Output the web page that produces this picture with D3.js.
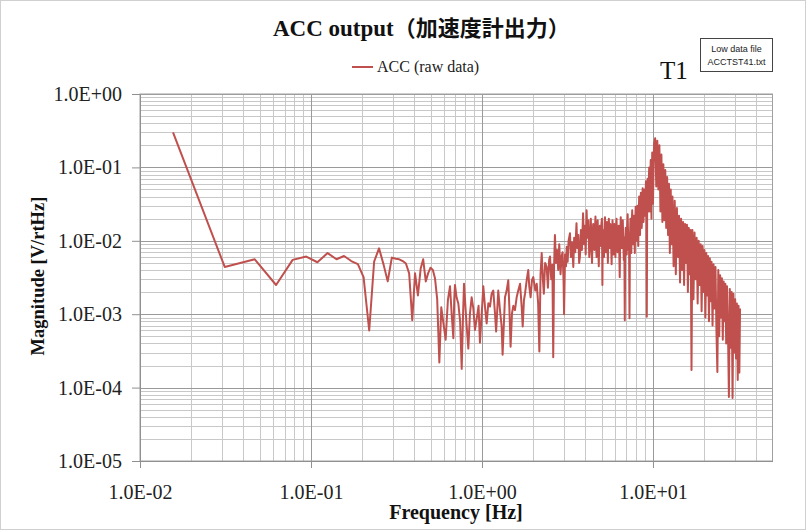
<!DOCTYPE html>
<html><head><meta charset="utf-8">
<script src="https://cdn.jsdelivr.net/npm/d3@7"></script>
<style>
html,body{margin:0;padding:0;background:#fff;}
svg{display:block;}
</style></head>
<body>
<script>
// ---- data ----
const freq = [
 0.0156,0.0313,0.0469,0.0625,0.0781,0.0938,0.109,0.125,0.141,0.156,0.172,0.188,0.203,0.219,0.234,0.25,0.266,0.281,0.297,0.313,
 0.328,0.344,0.359,0.375,0.391,0.406,0.422,0.438,0.453,0.469,0.484,0.5,0.516,0.531,0.547,0.563,0.578,
 0.613,0.632,0.65,0.665,0.68,0.688,0.695,0.71,0.727,0.745,0.761,0.775,0.785,0.81,0.832,0.85,0.87,0.89,0.91,0.94,
 0.955,0.973,1.018,1.041,1.065,1.089,1.114,1.139,1.164,1.191,1.21,1.245,1.274,1.303,1.32,1.363,1.394,1.425,1.445,1.47,
 1.498,1.525,1.559,1.595,1.63,1.67,1.706,1.73,1.76,1.785,1.826,1.865,1.89,1.925,1.96,1.995,
 2.05,2.09,2.13,2.165,2.20,2.235,2.27,2.30,2.34,2.39,2.43,2.47,2.50,
 2.54,2.58,2.61,2.64,2.67,2.71,2.75,2.79,2.83,2.88,2.92,2.96,3.00,3.02,3.06,3.10,3.13,3.17,3.21,3.27,
 3.31,3.36,3.42,3.46,3.51,3.57,3.61,3.66,3.70,3.74,3.79,3.84,3.90,3.95,4.00,4.04,4.09,4.14,4.19,4.24,
 4.28,4.305,4.33,4.365,4.40,4.435,4.47,4.505,4.54,4.575,
 4.61,4.645,4.68,4.715,4.75,4.785,4.82,4.855,4.89,4.925,
 4.96,4.995,5.03,5.06,5.08,5.10,5.135,5.17,5.205,5.24,
 5.275,5.31,5.345,5.38,5.415,5.45,5.485,5.52,5.555,5.59,
 5.625,5.66,5.695,5.73,5.765,5.80,5.835,5.87,5.905,5.94,
 5.985,6.03,6.075,6.12,6.165,6.21,6.255,6.30,6.345,6.39,
 6.435,6.48,6.525,6.57,6.615,6.66,6.705,6.75,6.795,6.84,
 6.885,6.93,6.975,7.02,7.065,7.11,7.155,7.20,7.245,7.29,
 7.335,7.38,7.425,7.47,7.515,7.56,7.605,7.65,7.695,7.74,
 7.785,7.83,7.875,7.92,7.965,8.01,8.055,8.10,8.15,8.20,
 8.25,8.30,8.35,8.40,8.45,8.50,8.55,8.60,8.65,8.70,
 8.75,8.80,8.85,8.90,8.95,9.00,9.05,9.10,9.15,9.20,
 9.25,9.30,9.35,9.40,9.45,9.50,9.55,9.60,9.65,9.70,
 9.75,9.80,9.85,9.90,9.95,10.00,10.075,10.15,10.30,10.375,
 10.45,10.525,10.60,10.675,10.75,10.825,10.90,10.975,11.05,11.125,
 11.20,11.275,11.35,11.425,11.50,11.575,11.65,11.725,11.80,11.875,
 11.95,12.025,12.10,12.175,12.25,12.325,12.40,12.475,12.55,12.625,
 12.70,12.775,12.85,12.925,13.00,
 13.20,13.40,13.60,13.80,14.00,14.20,14.40,14.60,14.80,15.00,15.20,
 15.40,15.60,15.80,16.00,16.20,16.40,16.60,16.80,17.00,17.25,17.50,17.75,18.00,18.25,18.50,18.75,19.00,19.25,19.50,19.75,
 20.00,20.25,20.50,20.75,21.00,21.25,21.50,21.75,22.00,22.30,22.60,22.90,23.20,23.50,23.80,24.10,24.40,24.70,25.00,25.30,
 25.60,25.90,26.20,26.50,26.80,27.10,27.45,27.80,28.15,28.50,28.85,29.20,29.55,29.90,30.25,30.60,30.95,31.30,31.65,32.00,
 32.30
];
const mag = [
 0.30,0.0044,0.0056,0.0025,0.0055,0.0061,0.0051,0.0068,0.0056,0.0062,0.0053,0.0048,0.0032,0.0006,0.0052,0.0079,0.0047,0.0028,0.0059,0.0057,
 0.0056,0.0053,0.0049,0.0036,0.00083,0.0036,0.0018,0.0042,0.0056,0.0028,0.0036,0.0043,0.0040,0.0031,0.0016,0.00022,0.00124,
 0.00045,0.00156,0.0024,0.0010,0.00047,0.00156,0.0025,0.0017,0.0014,0.0008,0.00018,0.0010,0.0026,0.0008,0.00034,0.0010,0.0017,0.0012,0.00061,0.0010,
 0.0013,0.00041,0.0024,0.00127,0.00075,0.00141,0.00127,0.0019,0.0021,0.00103,0.00058,0.0021,0.00114,0.00068,0.00028,0.0017,0.0021,0.0029,0.00127,0.00036,
 0.00103,0.0013,0.00114,0.0017,0.0021,0.0026,0.00127,0.00068,0.00156,0.0019,0.0029,0.0040,0.0024,0.0017,0.0029,0.0032,
 0.0021,0.0026,0.0014,0.00031,0.0035,0.0068,0.0030,0.0019,0.0050,0.0044,0.0023,0.0055,0.0061,
 0.0030,0.0047,0.00026,0.0045,0.012,0.0050,0.0075,0.0040,0.0090,0.0035,0.0061,0.0070,0.0028,0.0010,0.0065,0.0045,0.0083,0.0052,0.0100,0.0127,
 0.0060,0.0095,0.0044,0.0110,0.0070,0.0173,0.0080,0.0120,0.0050,0.0061,0.0140,0.0075,0.0237,0.0090,0.0160,0.0065,0.026,0.0110,0.0190,0.0060,
 0.0083,0.0130,0.0200,0.0095,0.0050,0.0120,0.0170,0.0110,0.0075,0.0140,
 0.0215,0.0090,0.0060,0.0150,0.0190,0.0080,0.0045,0.0110,0.0160,0.0120,
 0.0085,0.0170,0.0200,0.0025,0.0090,0.0140,0.0100,0.0060,0.0150,0.0210,
 0.0110,0.0070,0.0130,0.0180,0.0090,0.0050,0.0140,0.0200,0.0120,0.0080,
 0.0170,0.0150,0.0085,0.0048,0.0120,0.0190,0.0100,0.0065,0.0130,0.0170,
 0.0095,0.0060,0.0140,0.0200,0.0110,0.0070,0.0130,0.0160,0.0080,0.0032,
 0.0120,0.0210,0.0120,0.0080,0.0150,0.0190,0.0100,0.0055,0.0110,0.00083,
 0.0090,0.0150,0.0100,0.0065,0.0160,0.0230,0.0120,0.0075,0.0090,0.00088,
 0.0110,0.0200,0.0110,0.0068,0.0170,0.0260,0.0130,0.0090,0.0160,0.0220,
 0.0110,0.0068,0.0180,0.0290,0.0140,0.0100,0.0200,0.0300,0.0150,0.0085,
 0.0200,0.0400,0.0180,0.0120,0.0280,0.0450,0.0230,0.0150,0.0330,0.0520,
 0.0280,0.0180,0.0350,0.0500,0.0300,0.0220,0.0420,0.0650,0.0200,0.00092,
 0.0300,0.0700,0.0400,0.0250,0.0600,0.1000,0.0450,0.0250,0.0700,0.1260,
 0.0500,0.0200,0.0800,0.1600,0.0700,0.0320,0.1000,0.2100,0.2500,0.1200,
 0.0550,0.1400,0.2300,0.1000,0.0500,0.1200,0.2000,0.0800,0.0250,0.0700,
 0.1500,0.0600,0.0180,0.0500,0.1100,0.0450,0.0190,0.0400,0.0920,0.0350,
 0.0150,0.0300,0.0740,0.0280,0.0120,0.0250,0.0600,0.0200,0.0068,0.0200,
 0.0500,0.0180,0.0090,0.0180,0.0400,
 0.0045,0.0350,0.0035,0.0280,0.0060,0.0220,0.0027,0.0200,0.0040,0.0180,0.0025,
 0.0170,0.0050,0.0165,0.0020,0.0150,0.0035,0.0140,0.000174,0.0140,0.0016,0.0130,0.0030,0.0110,0.0014,0.0100,0.0025,0.0090,0.0011,0.0085,0.0020,
 0.0075,0.0009,0.0068,0.0018,0.0062,0.0008,0.0058,0.0015,0.0052,0.0007,0.0048,0.0012,0.0044,0.0006,0.000163,0.0040,0.0005,0.0034,0.0009,0.0031,
 0.00045,0.0028,0.0008,0.0026,0.0004,0.0024,0.0006,0.0000745,0.0022,0.00035,0.0020,0.000072,0.0019,0.0003,0.0016,0.00025,0.0014,0.000127,0.0013,0.00016,
 0.0012
];
const xTickValues = [0.01, 0.1, 1, 10];
const xTickLabels = ["1.0E-02", "1.0E-01", "1.0E+00", "1.0E+01"];
const yTickValues = [1, 0.1, 0.01, 0.001, 0.0001, 0.00001];
const yTickLabels = ["1.0E+00", "1.0E-01", "1.0E-02", "1.0E-03", "1.0E-04", "1.0E-05"];
const seriesName = "ACC (raw data)";
const noteLines = ["Low data file", "ACCTST41.txt"];

// ---- layout ----
const W = 807, H = 532;
const L = 140, R = 772.5, T = 94, B = 461;
const serif = "'Liberation Serif','Times New Roman',serif";
const lineColor = "#c0504d";

const svg = d3.select("body").append("svg").attr("width", W).attr("height", H);
svg.append("rect").attr("x", 0.5).attr("y", 0.5).attr("width", W - 2).attr("height", H - 3)
  .attr("fill", "#fff").attr("stroke", "#d0d0d0");

const x = d3.scaleLog().domain([0.01, 50]).range([L, R]);
const y = d3.scaleLog().domain([1e-5, 1]).range([B, T]);

// minor grid
const xMinor = [], yMinor = [];
for (let d = -2; d <= 1; d++) for (let m = 2; m <= 9; m++) { const v = m * Math.pow(10, d); if (v < 50) xMinor.push(v); }
for (let d = -5; d <= -1; d++) for (let m = 2; m <= 9; m++) yMinor.push(m * Math.pow(10, d));
const g = svg.append("g");
g.selectAll(".xm").data(xMinor).join("line")
  .attr("x1", d => Math.round(x(d)) + 0.5).attr("x2", d => Math.round(x(d)) + 0.5)
  .attr("y1", T).attr("y2", B).attr("stroke", "#c8c8c8").attr("stroke-width", 1);
g.selectAll(".ym").data(yMinor).join("line")
  .attr("y1", d => Math.round(y(d)) + 0.5).attr("y2", d => Math.round(y(d)) + 0.5)
  .attr("x1", L).attr("x2", R).attr("stroke", "#c8c8c8").attr("stroke-width", 1);
g.selectAll(".xM").data(xTickValues).join("line")
  .attr("x1", d => Math.round(x(d)) + 0.5).attr("x2", d => Math.round(x(d)) + 0.5)
  .attr("y1", T).attr("y2", B).attr("stroke", "#9a9a9a").attr("stroke-width", 1);
g.selectAll(".yM").data(yTickValues).join("line")
  .attr("y1", d => Math.round(y(d)) + 0.5).attr("y2", d => Math.round(y(d)) + 0.5)
  .attr("x1", L).attr("x2", R).attr("stroke", "#9a9a9a").attr("stroke-width", 1);
svg.append("rect").attr("x", L).attr("y", T).attr("width", R - L).attr("height", B - T)
  .attr("fill", "none").attr("stroke", "#a0a0a0");

// axes
const xAxis = d3.axisBottom(x).tickValues(xTickValues)
  .tickFormat((d, i) => xTickLabels[i]).tickSize(7).tickSizeOuter(0);
const yAxis = d3.axisLeft(y).tickValues(yTickValues)
  .tickFormat((d, i) => yTickLabels[i]).tickSize(8).tickSizeOuter(0);
const gx = svg.append("g").attr("transform", `translate(0,${B})`).call(xAxis);
const gy = svg.append("g").attr("transform", `translate(${L},0)`).call(yAxis);
[gx, gy].forEach(a => {
  a.select(".domain").attr("stroke", "#909090");
  a.selectAll(".tick line").attr("stroke", "#909090");
  a.selectAll("text").attr("font-family", serif).attr("font-size", 20).attr("fill", "#222");
});
gx.selectAll("text").attr("y", 38).attr("dy", 0);
gy.selectAll("text").attr("x", -18);

// series
const n = Math.min(freq.length, mag.length);
const pts = freq.slice(0, n).map((f, i) => [f, mag[i]]);
svg.append("path").datum(pts)
  .attr("d", d3.line().x(d => x(d[0])).y(d => y(d[1])))
  .attr("fill", "none").attr("stroke", lineColor).attr("stroke-width", 2)
  .attr("stroke-linejoin", "round");

// title
const title = svg.append("text").attr("x", 273).attr("y", 36).attr("text-anchor", "start")
  .attr("font-weight", "bold").attr("font-size", 23).attr("fill", "#111");
title.append("tspan").attr("font-family", serif).text("ACC output");
title.append("tspan").attr("font-family", "'Noto Sans CJK JP'").attr("font-size", 22).text("（加速度計出力）");

// legend
svg.append("line").attr("x1", 352).attr("x2", 373).attr("y1", 67).attr("y2", 67)
  .attr("stroke", lineColor).attr("stroke-width", 2);
svg.append("text").attr("x", 377).attr("y", 72).attr("font-family", serif).attr("font-size", 16)
  .attr("fill", "#222").text(seriesName);

// T1
svg.append("text").attr("x", 660).attr("y", 79).attr("font-family", serif).attr("font-size", 25)
  .attr("fill", "#111").text("T1");

// note box
svg.append("rect").attr("x", 700.5).attr("y", 38.5).attr("width", 72).attr("height", 33)
  .attr("fill", "#fff").attr("stroke", "#444");
noteLines.forEach((t, i) => svg.append("text").attr("x", 736.5).attr("y", 52 + i * 13)
  .attr("text-anchor", "middle").attr("font-family", "'Liberation Sans',Arial,sans-serif")
  .attr("font-size", 9).attr("fill", "#222").text(t));

// axis titles
svg.append("text").attr("x", 456).attr("y", 519).attr("text-anchor", "middle")
  .attr("font-family", serif).attr("font-weight", "bold").attr("font-size", 20).attr("fill", "#111")
  .text("Frequency [Hz]");
svg.append("text").attr("transform", "translate(44,276) rotate(-90)").attr("text-anchor", "middle")
  .attr("font-family", serif).attr("font-weight", "bold").attr("font-size", 18.5).attr("fill", "#111")
  .text("Magnitude [V/rtHz]");
</script>
</body></html>
